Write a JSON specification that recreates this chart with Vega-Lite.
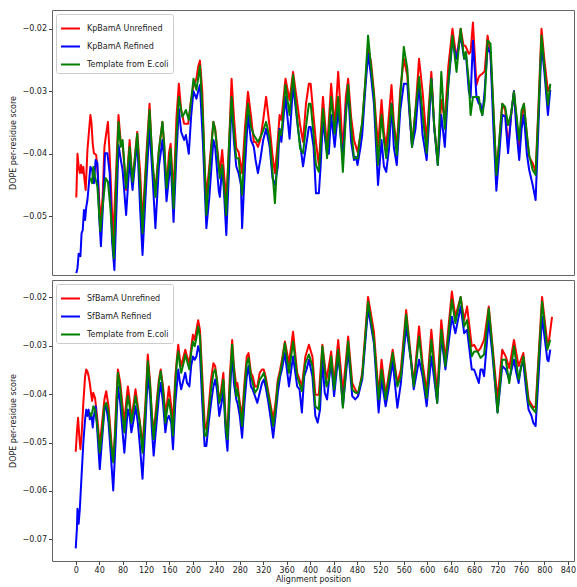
{
"$schema": "https://vega.github.io/schema/vega-lite/v6.json",
"padding": {"left": 9, "top": 9, "right": 0, "bottom": 0},
"spacing": 3,
"config": {
 "font": "DejaVu Sans",
 "view": {"stroke": "#666", "strokeWidth": 1},
 "axis": {"domain": false, "grid": false, "labelFontSize": 8, "titleFontSize": 8, "titleFontWeight": "normal", "labelColor": "#222", "titleColor": "#222", "tickColor": "#444", "tickSize": 3.5, "labelPadding": 2, "labelFont": "DejaVu Sans", "titleFont": "DejaVu Sans"},
 "legend": {"orient": "top-left", "offset": 4, "padding": 4, "strokeColor": "#ccc", "fillColor": "white", "cornerRadius": 2, "symbolType": "stroke", "symbolSize": 361, "symbolStrokeWidth": 2, "labelFontSize": 8, "labelOffset": 6, "rowPadding": 3, "labelFont": "DejaVu Sans", "labelColor": "#222"}
},
"resolve": {"scale": {"color": "independent", "y": "independent", "x": "independent"}, "legend": {"color": "independent"}},
"datasets": {
"kpU": [{"x":1,"y":-0.0470},{"x":3,"y":-0.0400},{"x":5,"y":-0.0421},{"x":7,"y":-0.0431},{"x":9,"y":-0.0418},{"x":11,"y":-0.0431},{"x":13,"y":-0.0421},{"x":15,"y":-0.0442},{"x":17,"y":-0.0458},{"x":20,"y":-0.0394},{"x":23,"y":-0.0360},{"x":25,"y":-0.0338},{"x":27,"y":-0.0352},{"x":29,"y":-0.0384},{"x":31,"y":-0.0399},{"x":35,"y":-0.0402},{"x":38,"y":-0.0437},{"x":42,"y":-0.0509},{"x":46,"y":-0.0469},{"x":49,"y":-0.0389},{"x":52,"y":-0.0368},{"x":55,"y":-0.0349},{"x":58,"y":-0.0404},{"x":64,"y":-0.0538},{"x":69,"y":-0.0426},{"x":73,"y":-0.0338},{"x":77,"y":-0.0384},{"x":80,"y":-0.0384},{"x":86,"y":-0.0458},{"x":92,"y":-0.0378},{"x":97,"y":-0.0447},{"x":102,"y":-0.0394},{"x":105,"y":-0.0365},{"x":110,"y":-0.0431},{"x":114,"y":-0.0511},{"x":120,"y":-0.0410},{"x":126,"y":-0.0320},{"x":131,"y":-0.0420},{"x":136,"y":-0.0458},{"x":142,"y":-0.0394},{"x":148,"y":-0.0349},{"x":151,"y":-0.0389},{"x":155,"y":-0.0458},{"x":159,"y":-0.0400},{"x":162,"y":-0.0384},{"x":167,"y":-0.0466},{"x":172,"y":-0.0341},{"x":176,"y":-0.0288},{"x":180,"y":-0.0330},{"x":185,"y":-0.0352},{"x":188,"y":-0.0352},{"x":192,"y":-0.0352},{"x":196,"y":-0.0320},{"x":201,"y":-0.0291},{"x":206,"y":-0.0280},{"x":209,"y":-0.0261},{"x":212,"y":-0.0251},{"x":216,"y":-0.0300},{"x":220,"y":-0.0420},{"x":223,"y":-0.0469},{"x":228,"y":-0.0420},{"x":235,"y":-0.0349},{"x":238,"y":-0.0360},{"x":246,"y":-0.0431},{"x":250,"y":-0.0394},{"x":257,"y":-0.0476},{"x":262,"y":-0.0378},{"x":266,"y":-0.0280},{"x":270,"y":-0.0341},{"x":274,"y":-0.0391},{"x":278,"y":-0.0397},{"x":284,"y":-0.0431},{"x":289,"y":-0.0357},{"x":294,"y":-0.0301},{"x":299,"y":-0.0338},{"x":304,"y":-0.0381},{"x":307,"y":-0.0381},{"x":311,"y":-0.0389},{"x":315,"y":-0.0378},{"x":320,"y":-0.0346},{"x":325,"y":-0.0309},{"x":331,"y":-0.0357},{"x":336,"y":-0.0404},{"x":340,"y":-0.0431},{"x":344,"y":-0.0389},{"x":348,"y":-0.0338},{"x":351,"y":-0.0346},{"x":358,"y":-0.0280},{"x":365,"y":-0.0314},{"x":371,"y":-0.0269},{"x":379,"y":-0.0325},{"x":383,"y":-0.0354},{"x":388,"y":-0.0381},{"x":393,"y":-0.0320},{"x":398,"y":-0.0288},{"x":401,"y":-0.0288},{"x":406,"y":-0.0341},{"x":410,"y":-0.0381},{"x":415,"y":-0.0418},{"x":422,"y":-0.0309},{"x":429,"y":-0.0392},{"x":436,"y":-0.0288},{"x":442,"y":-0.0357},{"x":448,"y":-0.0269},{"x":452,"y":-0.0330},{"x":456,"y":-0.0397},{"x":461,"y":-0.0309},{"x":465,"y":-0.0280},{"x":470,"y":-0.0341},{"x":475,"y":-0.0378},{"x":481,"y":-0.0397},{"x":486,"y":-0.0370},{"x":489,"y":-0.0352},{"x":494,"y":-0.0290},{"x":499,"y":-0.0229},{"x":504,"y":-0.0253},{"x":509,"y":-0.0301},{"x":516,"y":-0.0389},{"x":522,"y":-0.0314},{"x":526,"y":-0.0365},{"x":530,"y":-0.0389},{"x":539,"y":-0.0290},{"x":543,"y":-0.0350},{"x":548,"y":-0.0389},{"x":554,"y":-0.0298},{"x":560,"y":-0.0248},{"x":566,"y":-0.0275},{"x":570,"y":-0.0335},{"x":574,"y":-0.0386},{"x":580,"y":-0.0330},{"x":586,"y":-0.0248},{"x":592,"y":-0.0300},{"x":599,"y":-0.0381},{"x":603,"y":-0.0320},{"x":607,"y":-0.0269},{"x":612,"y":-0.0357},{"x":618,"y":-0.0410},{"x":624,"y":-0.0314},{"x":630,"y":-0.0346},{"x":636,"y":-0.0260},{"x":643,"y":-0.0200},{"x":650,"y":-0.0248},{"x":657,"y":-0.0200},{"x":662,"y":-0.0227},{"x":665,"y":-0.0227},{"x":671,"y":-0.0240},{"x":674,"y":-0.0237},{"x":678,"y":-0.0190},{"x":684,"y":-0.0290},{"x":688,"y":-0.0277},{"x":691,"y":-0.0274},{"x":694,"y":-0.0272},{"x":698,"y":-0.0268},{"x":703,"y":-0.0211},{"x":708,"y":-0.0240},{"x":713,"y":-0.0330},{"x":718,"y":-0.0429},{"x":723,"y":-0.0380},{"x":728,"y":-0.0320},{"x":733,"y":-0.0330},{"x":738,"y":-0.0389},{"x":743,"y":-0.0340},{"x":748,"y":-0.0300},{"x":752,"y":-0.0340},{"x":757,"y":-0.0397},{"x":761,"y":-0.0345},{"x":765,"y":-0.0320},{"x":770,"y":-0.0370},{"x":774,"y":-0.0405},{"x":780,"y":-0.0415},{"x":785,"y":-0.0429},{"x":790,"y":-0.0320},{"x":795,"y":-0.0200},{"x":800,"y":-0.0250},{"x":806,"y":-0.0300},{"x":810,"y":-0.0290}],
"kpR": [{"x":1,"y":-0.0591},{"x":3,"y":-0.0583},{"x":5,"y":-0.0560},{"x":8,"y":-0.0564},{"x":10,"y":-0.0527},{"x":12,"y":-0.0522},{"x":14,"y":-0.0490},{"x":16,"y":-0.0506},{"x":18,"y":-0.0485},{"x":20,"y":-0.0474},{"x":22,"y":-0.0453},{"x":25,"y":-0.0421},{"x":28,"y":-0.0426},{"x":31,"y":-0.0447},{"x":34,"y":-0.0410},{"x":37,"y":-0.0415},{"x":40,"y":-0.0500},{"x":43,"y":-0.0548},{"x":47,"y":-0.0474},{"x":50,"y":-0.0399},{"x":54,"y":-0.0399},{"x":58,"y":-0.0431},{"x":62,"y":-0.0540},{"x":66,"y":-0.0586},{"x":70,"y":-0.0474},{"x":73,"y":-0.0386},{"x":77,"y":-0.0410},{"x":80,"y":-0.0426},{"x":86,"y":-0.0498},{"x":92,"y":-0.0410},{"x":97,"y":-0.0458},{"x":105,"y":-0.0378},{"x":110,"y":-0.0490},{"x":114,"y":-0.0562},{"x":120,"y":-0.0453},{"x":126,"y":-0.0357},{"x":131,"y":-0.0434},{"x":136,"y":-0.0519},{"x":142,"y":-0.0420},{"x":148,"y":-0.0378},{"x":151,"y":-0.0410},{"x":155,"y":-0.0476},{"x":159,"y":-0.0440},{"x":162,"y":-0.0410},{"x":167,"y":-0.0509},{"x":172,"y":-0.0400},{"x":176,"y":-0.0328},{"x":180,"y":-0.0365},{"x":185,"y":-0.0378},{"x":188,"y":-0.0370},{"x":193,"y":-0.0400},{"x":197,"y":-0.0340},{"x":201,"y":-0.0300},{"x":206,"y":-0.0312},{"x":209,"y":-0.0300},{"x":212,"y":-0.0290},{"x":217,"y":-0.0380},{"x":223,"y":-0.0519},{"x":228,"y":-0.0470},{"x":235,"y":-0.0378},{"x":238,"y":-0.0389},{"x":244,"y":-0.0458},{"x":246,"y":-0.0469},{"x":250,"y":-0.0418},{"x":253,"y":-0.0460},{"x":257,"y":-0.0530},{"x":262,"y":-0.0420},{"x":266,"y":-0.0312},{"x":270,"y":-0.0380},{"x":274,"y":-0.0420},{"x":278,"y":-0.0431},{"x":282,"y":-0.0450},{"x":284,"y":-0.0519},{"x":289,"y":-0.0420},{"x":294,"y":-0.0338},{"x":299,"y":-0.0378},{"x":304,"y":-0.0389},{"x":307,"y":-0.0410},{"x":311,"y":-0.0431},{"x":315,"y":-0.0410},{"x":320,"y":-0.0378},{"x":325,"y":-0.0360},{"x":331,"y":-0.0389},{"x":336,"y":-0.0440},{"x":340,"y":-0.0450},{"x":345,"y":-0.0420},{"x":348,"y":-0.0360},{"x":351,"y":-0.0381},{"x":358,"y":-0.0309},{"x":365,"y":-0.0376},{"x":371,"y":-0.0290},{"x":379,"y":-0.0357},{"x":383,"y":-0.0384},{"x":388,"y":-0.0420},{"x":393,"y":-0.0389},{"x":398,"y":-0.0357},{"x":401,"y":-0.0357},{"x":406,"y":-0.0389},{"x":410,"y":-0.0463},{"x":415,"y":-0.0463},{"x":418,"y":-0.0420},{"x":422,"y":-0.0345},{"x":426,"y":-0.0380},{"x":429,"y":-0.0400},{"x":432,"y":-0.0400},{"x":436,"y":-0.0338},{"x":442,"y":-0.0389},{"x":448,"y":-0.0330},{"x":452,"y":-0.0370},{"x":456,"y":-0.0410},{"x":461,"y":-0.0330},{"x":465,"y":-0.0300},{"x":470,"y":-0.0380},{"x":475,"y":-0.0410},{"x":478,"y":-0.0405},{"x":481,"y":-0.0418},{"x":486,"y":-0.0390},{"x":489,"y":-0.0370},{"x":494,"y":-0.0300},{"x":499,"y":-0.0240},{"x":504,"y":-0.0275},{"x":509,"y":-0.0320},{"x":516,"y":-0.0450},{"x":522,"y":-0.0378},{"x":526,"y":-0.0420},{"x":530,"y":-0.0429},{"x":535,"y":-0.0390},{"x":539,"y":-0.0320},{"x":543,"y":-0.0390},{"x":548,"y":-0.0418},{"x":554,"y":-0.0330},{"x":560,"y":-0.0288},{"x":566,"y":-0.0288},{"x":570,"y":-0.0340},{"x":574,"y":-0.0389},{"x":580,"y":-0.0360},{"x":586,"y":-0.0288},{"x":592,"y":-0.0370},{"x":599,"y":-0.0410},{"x":603,"y":-0.0350},{"x":607,"y":-0.0280},{"x":612,"y":-0.0360},{"x":618,"y":-0.0418},{"x":624,"y":-0.0338},{"x":630,"y":-0.0389},{"x":636,"y":-0.0290},{"x":643,"y":-0.0219},{"x":650,"y":-0.0248},{"x":657,"y":-0.0210},{"x":663,"y":-0.0248},{"x":666,"y":-0.0240},{"x":671,"y":-0.0300},{"x":674,"y":-0.0310},{"x":678,"y":-0.0219},{"x":684,"y":-0.0309},{"x":688,"y":-0.0320},{"x":691,"y":-0.0320},{"x":694,"y":-0.0338},{"x":698,"y":-0.0300},{"x":703,"y":-0.0229},{"x":708,"y":-0.0240},{"x":713,"y":-0.0360},{"x":718,"y":-0.0459},{"x":723,"y":-0.0400},{"x":728,"y":-0.0338},{"x":733,"y":-0.0340},{"x":738,"y":-0.0399},{"x":743,"y":-0.0340},{"x":748,"y":-0.0300},{"x":752,"y":-0.0360},{"x":757,"y":-0.0410},{"x":761,"y":-0.0360},{"x":765,"y":-0.0338},{"x":770,"y":-0.0400},{"x":774,"y":-0.0426},{"x":780,"y":-0.0450},{"x":785,"y":-0.0474},{"x":790,"y":-0.0350},{"x":795,"y":-0.0224},{"x":800,"y":-0.0270},{"x":806,"y":-0.0338},{"x":810,"y":-0.0298}],
"kpT": [{"x":25,"y":-0.0439},{"x":28,"y":-0.0447},{"x":30,"y":-0.0421},{"x":33,"y":-0.0437},{"x":37,"y":-0.0453},{"x":42,"y":-0.0524},{"x":47,"y":-0.0474},{"x":51,"y":-0.0439},{"x":55,"y":-0.0445},{"x":59,"y":-0.0485},{"x":65,"y":-0.0567},{"x":69,"y":-0.0453},{"x":73,"y":-0.0349},{"x":77,"y":-0.0389},{"x":80,"y":-0.0378},{"x":86,"y":-0.0455},{"x":92,"y":-0.0389},{"x":97,"y":-0.0445},{"x":105,"y":-0.0368},{"x":110,"y":-0.0453},{"x":114,"y":-0.0527},{"x":120,"y":-0.0421},{"x":126,"y":-0.0330},{"x":131,"y":-0.0410},{"x":136,"y":-0.0469},{"x":142,"y":-0.0394},{"x":148,"y":-0.0349},{"x":151,"y":-0.0384},{"x":155,"y":-0.0455},{"x":162,"y":-0.0392},{"x":167,"y":-0.0487},{"x":172,"y":-0.0368},{"x":176,"y":-0.0309},{"x":182,"y":-0.0341},{"x":185,"y":-0.0336},{"x":188,"y":-0.0330},{"x":193,"y":-0.0346},{"x":197,"y":-0.0314},{"x":201,"y":-0.0280},{"x":206,"y":-0.0298},{"x":212,"y":-0.0259},{"x":217,"y":-0.0341},{"x":223,"y":-0.0498},{"x":228,"y":-0.0431},{"x":235,"y":-0.0349},{"x":238,"y":-0.0362},{"x":246,"y":-0.0439},{"x":250,"y":-0.0418},{"x":257,"y":-0.0498},{"x":262,"y":-0.0378},{"x":266,"y":-0.0309},{"x":270,"y":-0.0368},{"x":274,"y":-0.0407},{"x":278,"y":-0.0407},{"x":284,"y":-0.0466},{"x":289,"y":-0.0378},{"x":294,"y":-0.0320},{"x":299,"y":-0.0357},{"x":304,"y":-0.0370},{"x":311,"y":-0.0381},{"x":318,"y":-0.0368},{"x":325,"y":-0.0349},{"x":331,"y":-0.0376},{"x":336,"y":-0.0431},{"x":340,"y":-0.0479},{"x":345,"y":-0.0394},{"x":348,"y":-0.0362},{"x":351,"y":-0.0370},{"x":358,"y":-0.0290},{"x":365,"y":-0.0338},{"x":371,"y":-0.0274},{"x":379,"y":-0.0354},{"x":383,"y":-0.0392},{"x":388,"y":-0.0399},{"x":393,"y":-0.0357},{"x":398,"y":-0.0320},{"x":401,"y":-0.0320},{"x":406,"y":-0.0370},{"x":410,"y":-0.0418},{"x":415,"y":-0.0429},{"x":418,"y":-0.0389},{"x":422,"y":-0.0328},{"x":426,"y":-0.0368},{"x":429,"y":-0.0407},{"x":436,"y":-0.0309},{"x":442,"y":-0.0368},{"x":448,"y":-0.0309},{"x":452,"y":-0.0368},{"x":456,"y":-0.0429},{"x":461,"y":-0.0341},{"x":465,"y":-0.0290},{"x":470,"y":-0.0357},{"x":475,"y":-0.0407},{"x":481,"y":-0.0407},{"x":486,"y":-0.0368},{"x":489,"y":-0.0349},{"x":494,"y":-0.0288},{"x":499,"y":-0.0211},{"x":504,"y":-0.0261},{"x":509,"y":-0.0306},{"x":516,"y":-0.0418},{"x":522,"y":-0.0338},{"x":526,"y":-0.0378},{"x":530,"y":-0.0407},{"x":539,"y":-0.0320},{"x":543,"y":-0.0357},{"x":548,"y":-0.0402},{"x":554,"y":-0.0309},{"x":560,"y":-0.0229},{"x":566,"y":-0.0264},{"x":570,"y":-0.0330},{"x":574,"y":-0.0389},{"x":580,"y":-0.0330},{"x":586,"y":-0.0277},{"x":592,"y":-0.0336},{"x":599,"y":-0.0399},{"x":603,"y":-0.0330},{"x":607,"y":-0.0280},{"x":612,"y":-0.0357},{"x":618,"y":-0.0418},{"x":624,"y":-0.0269},{"x":630,"y":-0.0360},{"x":636,"y":-0.0288},{"x":643,"y":-0.0211},{"x":650,"y":-0.0269},{"x":657,"y":-0.0200},{"x":663,"y":-0.0248},{"x":666,"y":-0.0237},{"x":671,"y":-0.0285},{"x":674,"y":-0.0338},{"x":678,"y":-0.0309},{"x":684,"y":-0.0309},{"x":688,"y":-0.0309},{"x":691,"y":-0.0330},{"x":694,"y":-0.0338},{"x":698,"y":-0.0314},{"x":703,"y":-0.0219},{"x":708,"y":-0.0224},{"x":713,"y":-0.0330},{"x":718,"y":-0.0434},{"x":723,"y":-0.0378},{"x":728,"y":-0.0320},{"x":733,"y":-0.0325},{"x":738,"y":-0.0354},{"x":743,"y":-0.0336},{"x":748,"y":-0.0301},{"x":752,"y":-0.0336},{"x":757,"y":-0.0378},{"x":761,"y":-0.0330},{"x":765,"y":-0.0320},{"x":770,"y":-0.0368},{"x":774,"y":-0.0402},{"x":780,"y":-0.0426},{"x":785,"y":-0.0434},{"x":790,"y":-0.0330},{"x":795,"y":-0.0211},{"x":800,"y":-0.0261},{"x":806,"y":-0.0322},{"x":810,"y":-0.0288}],
"sfU": [{"x":0,"y":-0.0519},{"x":2,"y":-0.0479},{"x":4,"y":-0.0449},{"x":6,"y":-0.0486},{"x":8,"y":-0.0514},{"x":10,"y":-0.0486},{"x":13,"y":-0.0418},{"x":16,"y":-0.0363},{"x":18,"y":-0.0349},{"x":20,"y":-0.0353},{"x":22,"y":-0.0363},{"x":24,"y":-0.0377},{"x":26,"y":-0.0397},{"x":28,"y":-0.0414},{"x":30,"y":-0.0397},{"x":33,"y":-0.0408},{"x":37,"y":-0.0452},{"x":41,"y":-0.0507},{"x":45,"y":-0.0459},{"x":49,"y":-0.0411},{"x":52,"y":-0.0394},{"x":56,"y":-0.0425},{"x":60,"y":-0.0486},{"x":63,"y":-0.0531},{"x":66,"y":-0.0507},{"x":69,"y":-0.0418},{"x":72,"y":-0.0349},{"x":76,"y":-0.0377},{"x":80,"y":-0.0425},{"x":83,"y":-0.0459},{"x":86,"y":-0.0418},{"x":89,"y":-0.0384},{"x":92,"y":-0.0411},{"x":95,"y":-0.0452},{"x":99,"y":-0.0418},{"x":102,"y":-0.0390},{"x":106,"y":-0.0425},{"x":109,"y":-0.0452},{"x":114,"y":-0.0507},{"x":119,"y":-0.0418},{"x":123,"y":-0.0318},{"x":127,"y":-0.0377},{"x":130,"y":-0.0445},{"x":133,"y":-0.0479},{"x":138,"y":-0.0418},{"x":142,"y":-0.0370},{"x":145,"y":-0.0349},{"x":149,"y":-0.0384},{"x":153,"y":-0.0438},{"x":156,"y":-0.0418},{"x":159,"y":-0.0384},{"x":163,"y":-0.0425},{"x":166,"y":-0.0459},{"x":170,"y":-0.0363},{"x":173,"y":-0.0322},{"x":175,"y":-0.0298},{"x":178,"y":-0.0329},{"x":180,"y":-0.0342},{"x":184,"y":-0.0322},{"x":187,"y":-0.0308},{"x":190,"y":-0.0322},{"x":194,"y":-0.0336},{"x":197,"y":-0.0305},{"x":200,"y":-0.0277},{"x":203,"y":-0.0288},{"x":206,"y":-0.0267},{"x":209,"y":-0.0247},{"x":212,"y":-0.0267},{"x":216,"y":-0.0363},{"x":220,"y":-0.0459},{"x":223,"y":-0.0473},{"x":227,"y":-0.0425},{"x":231,"y":-0.0370},{"x":235,"y":-0.0336},{"x":238,"y":-0.0342},{"x":241,"y":-0.0370},{"x":245,"y":-0.0418},{"x":249,"y":-0.0384},{"x":252,"y":-0.0356},{"x":256,"y":-0.0459},{"x":259,"y":-0.0479},{"x":263,"y":-0.0363},{"x":267,"y":-0.0288},{"x":270,"y":-0.0342},{"x":274,"y":-0.0384},{"x":276,"y":-0.0377},{"x":280,"y":-0.0418},{"x":284,"y":-0.0445},{"x":288,"y":-0.0377},{"x":292,"y":-0.0322},{"x":295,"y":-0.0315},{"x":299,"y":-0.0356},{"x":302,"y":-0.0363},{"x":306,"y":-0.0384},{"x":310,"y":-0.0384},{"x":314,"y":-0.0356},{"x":318,"y":-0.0349},{"x":321,"y":-0.0349},{"x":324,"y":-0.0363},{"x":328,"y":-0.0390},{"x":333,"y":-0.0425},{"x":337,"y":-0.0452},{"x":341,"y":-0.0418},{"x":345,"y":-0.0370},{"x":349,"y":-0.0349},{"x":352,"y":-0.0329},{"x":357,"y":-0.0291},{"x":364,"y":-0.0336},{"x":371,"y":-0.0271},{"x":378,"y":-0.0356},{"x":386,"y":-0.0384},{"x":392,"y":-0.0322},{"x":398,"y":-0.0298},{"x":404,"y":-0.0322},{"x":409,"y":-0.0401},{"x":415,"y":-0.0401},{"x":421,"y":-0.0298},{"x":428,"y":-0.0370},{"x":432,"y":-0.0342},{"x":436,"y":-0.0312},{"x":441,"y":-0.0377},{"x":448,"y":-0.0288},{"x":456,"y":-0.0397},{"x":465,"y":-0.0281},{"x":472,"y":-0.0377},{"x":477,"y":-0.0390},{"x":482,"y":-0.0401},{"x":489,"y":-0.0356},{"x":499,"y":-0.0199},{"x":509,"y":-0.0271},{"x":517,"y":-0.0401},{"x":522,"y":-0.0329},{"x":529,"y":-0.0401},{"x":541,"y":-0.0308},{"x":549,"y":-0.0377},{"x":555,"y":-0.0349},{"x":564,"y":-0.0226},{"x":572,"y":-0.0322},{"x":577,"y":-0.0377},{"x":586,"y":-0.0260},{"x":592,"y":-0.0336},{"x":599,"y":-0.0394},{"x":607,"y":-0.0267},{"x":617,"y":-0.0397},{"x":624,"y":-0.0247},{"x":631,"y":-0.0329},{"x":642,"y":-0.0188},{"x":648,"y":-0.0240},{"x":657,"y":-0.0199},{"x":663,"y":-0.0247},{"x":668,"y":-0.0219},{"x":676,"y":-0.0301},{"x":680,"y":-0.0298},{"x":686,"y":-0.0312},{"x":691,"y":-0.0305},{"x":697,"y":-0.0288},{"x":705,"y":-0.0219},{"x":711,"y":-0.0295},{"x":720,"y":-0.0411},{"x":728,"y":-0.0308},{"x":734,"y":-0.0322},{"x":740,"y":-0.0346},{"x":748,"y":-0.0288},{"x":756,"y":-0.0342},{"x":764,"y":-0.0315},{"x":773,"y":-0.0411},{"x":781,"y":-0.0428},{"x":785,"y":-0.0425},{"x":796,"y":-0.0199},{"x":805,"y":-0.0295},{"x":808,"y":-0.0288},{"x":813,"y":-0.0240}],
"sfR": [{"x":0,"y":-0.0719},{"x":2,"y":-0.0678},{"x":3,"y":-0.0637},{"x":5,"y":-0.0668},{"x":7,"y":-0.0637},{"x":10,"y":-0.0568},{"x":13,"y":-0.0500},{"x":16,"y":-0.0452},{"x":18,"y":-0.0432},{"x":20,"y":-0.0445},{"x":22,"y":-0.0432},{"x":24,"y":-0.0452},{"x":27,"y":-0.0445},{"x":29,"y":-0.0469},{"x":31,"y":-0.0445},{"x":34,"y":-0.0425},{"x":37,"y":-0.0479},{"x":41,"y":-0.0555},{"x":45,"y":-0.0493},{"x":49,"y":-0.0432},{"x":52,"y":-0.0425},{"x":56,"y":-0.0459},{"x":60,"y":-0.0527},{"x":64,"y":-0.0599},{"x":68,"y":-0.0500},{"x":72,"y":-0.0384},{"x":76,"y":-0.0418},{"x":80,"y":-0.0479},{"x":83,"y":-0.0521},{"x":87,"y":-0.0459},{"x":89,"y":-0.0432},{"x":92,"y":-0.0445},{"x":95,"y":-0.0479},{"x":99,"y":-0.0452},{"x":102,"y":-0.0425},{"x":106,"y":-0.0459},{"x":110,"y":-0.0514},{"x":114,"y":-0.0575},{"x":119,"y":-0.0459},{"x":123,"y":-0.0360},{"x":127,"y":-0.0404},{"x":130,"y":-0.0473},{"x":133,"y":-0.0527},{"x":138,"y":-0.0459},{"x":142,"y":-0.0404},{"x":145,"y":-0.0377},{"x":149,"y":-0.0418},{"x":153,"y":-0.0479},{"x":156,"y":-0.0452},{"x":159,"y":-0.0445},{"x":163,"y":-0.0459},{"x":166,"y":-0.0514},{"x":170,"y":-0.0418},{"x":173,"y":-0.0377},{"x":175,"y":-0.0349},{"x":178,"y":-0.0377},{"x":180,"y":-0.0390},{"x":184,"y":-0.0370},{"x":187,"y":-0.0356},{"x":190,"y":-0.0377},{"x":194,"y":-0.0384},{"x":197,"y":-0.0342},{"x":200,"y":-0.0322},{"x":203,"y":-0.0329},{"x":206,"y":-0.0322},{"x":209,"y":-0.0301},{"x":212,"y":-0.0315},{"x":216,"y":-0.0418},{"x":220,"y":-0.0507},{"x":223,"y":-0.0507},{"x":227,"y":-0.0459},{"x":231,"y":-0.0418},{"x":235,"y":-0.0384},{"x":238,"y":-0.0370},{"x":241,"y":-0.0390},{"x":245,"y":-0.0445},{"x":249,"y":-0.0418},{"x":252,"y":-0.0390},{"x":256,"y":-0.0479},{"x":259,"y":-0.0517},{"x":263,"y":-0.0404},{"x":267,"y":-0.0312},{"x":270,"y":-0.0377},{"x":274,"y":-0.0411},{"x":276,"y":-0.0418},{"x":280,"y":-0.0445},{"x":284,"y":-0.0490},{"x":288,"y":-0.0418},{"x":292,"y":-0.0363},{"x":295,"y":-0.0342},{"x":299,"y":-0.0384},{"x":302,"y":-0.0390},{"x":306,"y":-0.0404},{"x":310,"y":-0.0418},{"x":314,"y":-0.0397},{"x":318,"y":-0.0377},{"x":321,"y":-0.0370},{"x":324,"y":-0.0384},{"x":328,"y":-0.0411},{"x":333,"y":-0.0452},{"x":337,"y":-0.0490},{"x":341,"y":-0.0445},{"x":345,"y":-0.0397},{"x":349,"y":-0.0363},{"x":352,"y":-0.0349},{"x":357,"y":-0.0315},{"x":364,"y":-0.0384},{"x":371,"y":-0.0322},{"x":378,"y":-0.0384},{"x":382,"y":-0.0390},{"x":386,"y":-0.0438},{"x":390,"y":-0.0363},{"x":394,"y":-0.0349},{"x":398,"y":-0.0329},{"x":404,"y":-0.0363},{"x":409,"y":-0.0445},{"x":413,"y":-0.0459},{"x":417,"y":-0.0432},{"x":421,"y":-0.0329},{"x":425,"y":-0.0397},{"x":429,"y":-0.0411},{"x":433,"y":-0.0363},{"x":436,"y":-0.0336},{"x":441,"y":-0.0404},{"x":448,"y":-0.0322},{"x":452,"y":-0.0363},{"x":456,"y":-0.0425},{"x":461,"y":-0.0363},{"x":465,"y":-0.0308},{"x":472,"y":-0.0404},{"x":477,"y":-0.0411},{"x":482,"y":-0.0404},{"x":489,"y":-0.0370},{"x":499,"y":-0.0223},{"x":509,"y":-0.0295},{"x":517,"y":-0.0438},{"x":522,"y":-0.0370},{"x":529,"y":-0.0425},{"x":534,"y":-0.0390},{"x":541,"y":-0.0332},{"x":549,"y":-0.0428},{"x":555,"y":-0.0377},{"x":564,"y":-0.0260},{"x":572,"y":-0.0329},{"x":577,"y":-0.0390},{"x":586,"y":-0.0329},{"x":592,"y":-0.0363},{"x":599,"y":-0.0425},{"x":607,"y":-0.0322},{"x":617,"y":-0.0418},{"x":624,"y":-0.0281},{"x":631,"y":-0.0349},{"x":642,"y":-0.0240},{"x":648,"y":-0.0274},{"x":657,"y":-0.0219},{"x":663,"y":-0.0274},{"x":668,"y":-0.0267},{"x":676,"y":-0.0349},{"x":680,"y":-0.0349},{"x":684,"y":-0.0363},{"x":688,"y":-0.0377},{"x":691,"y":-0.0349},{"x":694,"y":-0.0349},{"x":697,"y":-0.0363},{"x":705,"y":-0.0247},{"x":711,"y":-0.0315},{"x":720,"y":-0.0438},{"x":728,"y":-0.0342},{"x":734,"y":-0.0349},{"x":740,"y":-0.0370},{"x":748,"y":-0.0329},{"x":752,"y":-0.0356},{"x":756,"y":-0.0377},{"x":760,"y":-0.0342},{"x":764,"y":-0.0336},{"x":770,"y":-0.0404},{"x":773,"y":-0.0432},{"x":778,"y":-0.0445},{"x":781,"y":-0.0459},{"x":785,"y":-0.0466},{"x":796,"y":-0.0240},{"x":805,"y":-0.0329},{"x":807,"y":-0.0332},{"x":810,"y":-0.0308}],
"sfT": [{"x":24,"y":-0.0438},{"x":26,"y":-0.0445},{"x":28,"y":-0.0438},{"x":30,"y":-0.0425},{"x":33,"y":-0.0432},{"x":37,"y":-0.0466},{"x":41,"y":-0.0521},{"x":45,"y":-0.0479},{"x":49,"y":-0.0425},{"x":52,"y":-0.0418},{"x":56,"y":-0.0438},{"x":60,"y":-0.0500},{"x":64,"y":-0.0541},{"x":68,"y":-0.0466},{"x":72,"y":-0.0356},{"x":76,"y":-0.0390},{"x":80,"y":-0.0445},{"x":83,"y":-0.0479},{"x":87,"y":-0.0425},{"x":89,"y":-0.0404},{"x":92,"y":-0.0425},{"x":95,"y":-0.0459},{"x":99,"y":-0.0432},{"x":102,"y":-0.0404},{"x":106,"y":-0.0432},{"x":110,"y":-0.0466},{"x":114,"y":-0.0521},{"x":119,"y":-0.0432},{"x":123,"y":-0.0332},{"x":127,"y":-0.0384},{"x":130,"y":-0.0445},{"x":133,"y":-0.0493},{"x":138,"y":-0.0432},{"x":142,"y":-0.0377},{"x":145,"y":-0.0353},{"x":149,"y":-0.0390},{"x":153,"y":-0.0459},{"x":156,"y":-0.0432},{"x":159,"y":-0.0411},{"x":163,"y":-0.0445},{"x":166,"y":-0.0486},{"x":170,"y":-0.0377},{"x":173,"y":-0.0329},{"x":175,"y":-0.0312},{"x":178,"y":-0.0342},{"x":180,"y":-0.0356},{"x":184,"y":-0.0336},{"x":187,"y":-0.0318},{"x":190,"y":-0.0332},{"x":194,"y":-0.0349},{"x":197,"y":-0.0315},{"x":200,"y":-0.0291},{"x":203,"y":-0.0301},{"x":206,"y":-0.0284},{"x":209,"y":-0.0260},{"x":212,"y":-0.0281},{"x":216,"y":-0.0384},{"x":220,"y":-0.0486},{"x":223,"y":-0.0486},{"x":227,"y":-0.0438},{"x":231,"y":-0.0390},{"x":235,"y":-0.0356},{"x":238,"y":-0.0349},{"x":241,"y":-0.0370},{"x":245,"y":-0.0418},{"x":249,"y":-0.0397},{"x":252,"y":-0.0370},{"x":256,"y":-0.0466},{"x":259,"y":-0.0493},{"x":263,"y":-0.0384},{"x":267,"y":-0.0298},{"x":270,"y":-0.0349},{"x":274,"y":-0.0404},{"x":276,"y":-0.0390},{"x":280,"y":-0.0425},{"x":284,"y":-0.0466},{"x":288,"y":-0.0390},{"x":292,"y":-0.0336},{"x":295,"y":-0.0325},{"x":299,"y":-0.0363},{"x":302,"y":-0.0377},{"x":306,"y":-0.0397},{"x":310,"y":-0.0390},{"x":314,"y":-0.0370},{"x":318,"y":-0.0363},{"x":321,"y":-0.0356},{"x":324,"y":-0.0370},{"x":328,"y":-0.0397},{"x":333,"y":-0.0432},{"x":337,"y":-0.0466},{"x":341,"y":-0.0432},{"x":345,"y":-0.0377},{"x":349,"y":-0.0356},{"x":352,"y":-0.0336},{"x":357,"y":-0.0295},{"x":364,"y":-0.0356},{"x":371,"y":-0.0291},{"x":378,"y":-0.0363},{"x":386,"y":-0.0394},{"x":392,"y":-0.0336},{"x":398,"y":-0.0318},{"x":404,"y":-0.0342},{"x":409,"y":-0.0425},{"x":415,"y":-0.0432},{"x":421,"y":-0.0301},{"x":428,"y":-0.0384},{"x":432,"y":-0.0370},{"x":436,"y":-0.0322},{"x":441,"y":-0.0390},{"x":448,"y":-0.0308},{"x":456,"y":-0.0428},{"x":465,"y":-0.0291},{"x":472,"y":-0.0390},{"x":477,"y":-0.0397},{"x":482,"y":-0.0397},{"x":489,"y":-0.0363},{"x":499,"y":-0.0209},{"x":509,"y":-0.0288},{"x":517,"y":-0.0411},{"x":522,"y":-0.0349},{"x":529,"y":-0.0411},{"x":541,"y":-0.0315},{"x":549,"y":-0.0384},{"x":555,"y":-0.0363},{"x":564,"y":-0.0236},{"x":572,"y":-0.0329},{"x":577,"y":-0.0384},{"x":586,"y":-0.0281},{"x":592,"y":-0.0349},{"x":599,"y":-0.0408},{"x":607,"y":-0.0288},{"x":617,"y":-0.0418},{"x":624,"y":-0.0267},{"x":631,"y":-0.0342},{"x":642,"y":-0.0205},{"x":648,"y":-0.0253},{"x":657,"y":-0.0199},{"x":663,"y":-0.0260},{"x":668,"y":-0.0247},{"x":676,"y":-0.0322},{"x":680,"y":-0.0312},{"x":686,"y":-0.0312},{"x":691,"y":-0.0325},{"x":697,"y":-0.0318},{"x":705,"y":-0.0223},{"x":711,"y":-0.0301},{"x":720,"y":-0.0438},{"x":728,"y":-0.0329},{"x":734,"y":-0.0329},{"x":740,"y":-0.0377},{"x":748,"y":-0.0301},{"x":756,"y":-0.0370},{"x":764,"y":-0.0322},{"x":773,"y":-0.0418},{"x":781,"y":-0.0432},{"x":785,"y":-0.0438},{"x":796,"y":-0.0209},{"x":805,"y":-0.0308},{"x":810,"y":-0.0288}]
},
"vconcat": [
 {
  "width": 522, "height": 265,
  "encoding": {
   "x": {"field": "x", "type": "quantitative", "scale": {"domain": [-40.5, 850.5], "nice": false, "zero": false}, "axis": null},
   "y": {"field": "y", "type": "quantitative", "scale": {"domain": [-0.0594, -0.0170], "nice": false, "zero": false}, "axis": {"values": [-0.05, -0.04, -0.03, -0.02], "format": ".2f", "title": "DOPE per-residue score"}}
  },
  "layer": [
   {"data": {"name": "kpU"}, "mark": {"type": "line", "strokeWidth": 2, "clip": true, "strokeJoin": "round"}, "encoding": {"color": {"datum": "KpBamA Unrefined", "type": "nominal", "scale": {"domain": ["KpBamA Unrefined", "KpBamA Refined", "Template from E.coli"], "range": ["#ff0000", "#0000ff", "#008000"]}, "legend": {"title": null}}}},
   {"data": {"name": "kpR"}, "mark": {"type": "line", "strokeWidth": 2, "clip": true, "strokeJoin": "round"}, "encoding": {"color": {"datum": "KpBamA Refined", "type": "nominal"}}},
   {"data": {"name": "kpT"}, "mark": {"type": "line", "strokeWidth": 2, "clip": true, "strokeJoin": "round"}, "encoding": {"color": {"datum": "Template from E.coli", "type": "nominal"}}}
  ]
 },
 {
  "width": 522, "height": 281,
  "encoding": {
   "x": {"field": "x", "type": "quantitative", "scale": {"domain": [-40.5, 850.5], "nice": false, "zero": false}, "axis": {"values": [0,40,80,120,160,200,240,280,320,360,400,440,480,520,560,600,640,680,720,760,800,840], "labelAngle": 0, "title": "Alignment position", "titlePadding": 1}},
   "y": {"field": "y", "type": "quantitative", "scale": {"domain": [-0.0745, -0.0164], "nice": false, "zero": false}, "axis": {"values": [-0.07, -0.06, -0.05, -0.04, -0.03, -0.02], "format": ".2f", "title": "DOPE per-residue score"}}
  },
  "layer": [
   {"data": {"name": "sfU"}, "mark": {"type": "line", "strokeWidth": 2, "clip": true, "strokeJoin": "round"}, "encoding": {"color": {"datum": "SfBamA Unrefined", "type": "nominal", "scale": {"domain": ["SfBamA Unrefined", "SfBamA Refined", "Template from E.coli"], "range": ["#ff0000", "#0000ff", "#008000"]}, "legend": {"title": null}}}},
   {"data": {"name": "sfR"}, "mark": {"type": "line", "strokeWidth": 2, "clip": true, "strokeJoin": "round"}, "encoding": {"color": {"datum": "SfBamA Refined", "type": "nominal"}}},
   {"data": {"name": "sfT"}, "mark": {"type": "line", "strokeWidth": 2, "clip": true, "strokeJoin": "round"}, "encoding": {"color": {"datum": "Template from E.coli", "type": "nominal"}}}
  ]
 }
]
}
